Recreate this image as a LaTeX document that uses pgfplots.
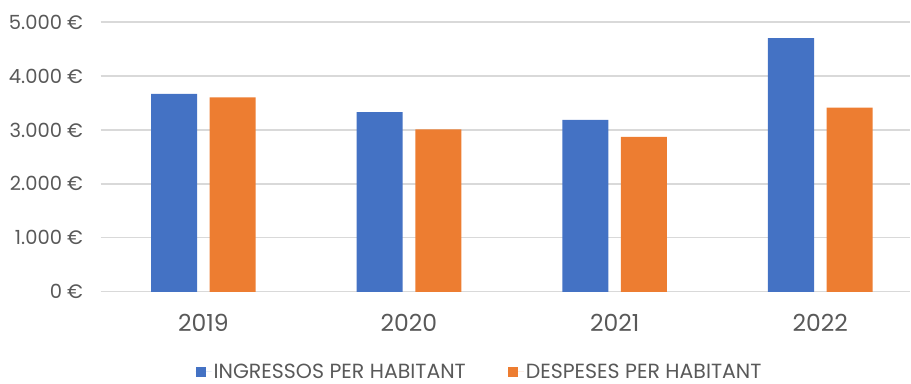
\documentclass[border=0pt]{standalone}
\usepackage{pgfplots}
\pgfplotsset{compat=1.18}
\usepackage{fontspec}
\setmainfont{Poppins}
\definecolor{txt}{HTML}{595959}
\definecolor{gridc}{HTML}{D9D9D9}
\definecolor{cblue}{HTML}{4472C4}
\definecolor{corange}{HTML}{ED7D31}
\begin{document}
\begin{tikzpicture}
\begin{axis}[
  scale only axis,
  width=810.4pt, height=270pt,
  xmin=-0.5, xmax=3.438, ymin=0, ymax=5000,
  ybar, bar width=0.224,
  xtick=data, xticklabels={2019,2020,2021,2022},
  ytick={0,1000,...,5000},
  yticklabel={\pgfmathprintnumber{\tick}~€},
  /pgf/number format/.cd, 1000 sep={.}, assume math mode=true, /pgfplots/.cd,
  ymajorgrids, grid style={gridc, line width=1.3pt},
  axis line style={draw=none},
  tick style={draw=none},
  yticklabel style={font=\fontsize{19.5}{22}\selectfont, text=txt, xshift=-14pt},
  xticklabel style={font=\fontsize{23.5}{26}\selectfont, text=txt, yshift=-15pt},
  legend style={at={(0.468,-0.296)}, anchor=center, draw=none, legend columns=2,
    font=\fontsize{20.5}{24}\selectfont, text=txt,
    /tikz/every even column/.append style={column sep=40pt}},
  legend image code/.code={\fill[#1] (0pt,-5pt) rectangle (10pt,5pt); \path (0pt,0pt) -- (16pt,0pt);},
]
\addplot[fill=cblue, draw=none, bar shift=-0.1425] coordinates {(0,3670) (1,3330) (2,3185) (3,4700)};
\addplot[fill=corange, draw=none, bar shift=0.1425] coordinates {(0,3605) (1,3010) (2,2870) (3,3413)};
\legend{INGRESSOS PER HABITANT, DESPESES PER HABITANT}
\end{axis}
\path (current axis.south west) ++(-100.6pt,-91pt) (current axis.north east) ++(0pt,22pt);
\end{tikzpicture}
\end{document}
